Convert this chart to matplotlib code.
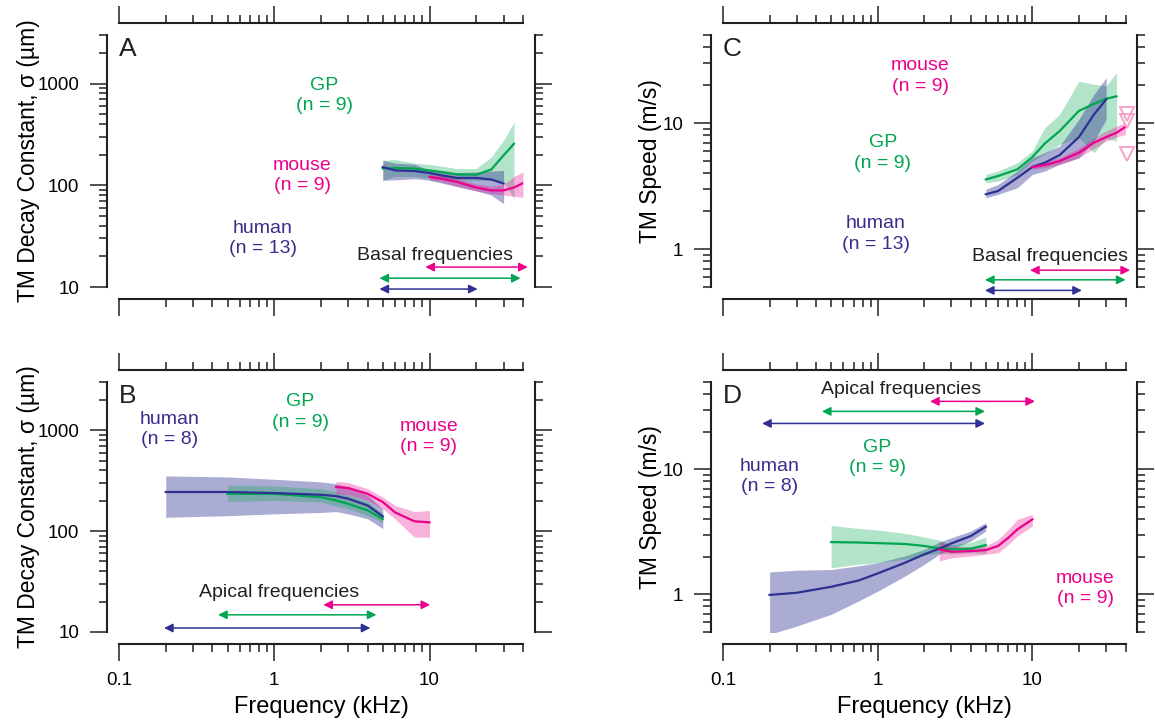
import numpy as np
import matplotlib.pyplot as plt
from matplotlib.ticker import LogLocator, FuncFormatter, NullFormatter

plt.rcParams['font.family'] = ['Liberation Sans', 'DejaVu Sans']

GREEN = '#00A651'
PINK = '#EC008C'
BLUE = '#2E3192'
HUMAN_TXT = '#3D2C8D'
AXIS = '#231F20'

# A: decay constant, basal
a_human_f = [5, 6, 8, 10, 12, 15, 20, 25, 30]
a_human = [151, 140, 138, 132, 125, 118, 118, 114, 104]
a_human_hi = [176, 165, 161, 140, 135, 133, 135, 138, 140]
a_human_lo = [112, 113, 116, 112, 105, 97, 88, 80, 66]

a_gp_f = [5, 6, 8, 10, 12, 15, 20, 25, 30, 35]
a_gp = [146, 148, 146, 140, 135, 128, 127, 143, 197, 256]
a_gp_hi = [176, 179, 165, 160, 154, 146, 146, 190, 276, 417]
a_gp_lo = [112, 122, 122, 117, 114, 112, 112, 112, 108, 74]

a_mouse_f = [10, 12, 15, 20, 25, 30, 35, 40]
a_mouse = [121, 116, 108, 95, 89, 89, 95, 105]
a_mouse_hi = [128, 125, 116, 103, 98, 102, 122, 135]
a_mouse_lo = [112, 108, 98, 88, 83, 80, 78, 76]

# B: decay constant, apical
b_human_f = [0.2, 0.5, 1, 2, 2.5, 3, 4, 5]
b_human = [244, 244, 238, 229, 222, 209, 179, 140]
b_human_hi = [352, 344, 326, 307, 295, 273, 226, 166]
b_human_lo = [137, 142, 148, 153, 156, 148, 132, 106]

b_gp_f = [0.5, 1, 2, 2.5, 3, 4, 5]
b_gp = [234, 234, 217, 201, 186, 160, 132]
b_gp_hi = [284, 280, 263, 244, 226, 194, 148]
b_gp_lo = [196, 201, 194, 177, 166, 142, 122]

b_mouse_f = [2.5, 3, 4, 5, 6, 8, 10]
b_mouse = [273, 267, 234, 194, 153, 125, 122]
b_mouse_hi = [311, 302, 263, 217, 179, 156, 160]
b_mouse_lo = [234, 229, 201, 166, 132, 87, 87]

# C: speed, basal
c_human_f = [5, 6, 8, 10, 12, 15, 20, 25, 30]
c_human = [2.72, 2.89, 3.68, 4.48, 4.84, 5.57, 7.74, 11.7, 15.4]
c_human_hi = [2.98, 3.26, 4.16, 5.3, 5.82, 6.57, 10.7, 16.9, 22.9]
c_human_lo = [2.55, 2.72, 3.07, 3.91, 4.16, 4.7, 5.3, 7.2, 10.7]

c_gp_f = [5, 6, 8, 10, 12, 15, 20, 25, 30, 35]
c_gp = [3.57, 3.80, 4.29, 5.37, 6.86, 8.64, 12.5, 14.2, 15.6, 16.3]
c_gp_hi = [3.91, 4.16, 4.84, 6.0, 9.18, 11.7, 21.5, 20.3, 19.7, 25.1]
c_gp_lo = [3.36, 3.46, 3.91, 4.99, 5.64, 6.77, 7.65, 5.8, 7.5, 7.2]

c_mouse_f = [10, 12, 15, 20, 25, 30, 35, 40]
c_mouse = [4.48, 4.64, 4.99, 5.82, 6.98, 7.74, 8.38, 9.35]
c_mouse_hi = [4.7, 4.93, 5.3, 6.3, 7.65, 8.64, 9.46, 10.1]
c_mouse_lo = [4.29, 4.42, 4.7, 5.3, 6.3, 7.2, 7.74, 8.13]

c_tri_f = [41, 41, 41]
c_tri = [11.7, 10.4, 5.64]

# D: speed, apical
d_human_f = [0.2, 0.3, 0.5, 0.75, 1, 1.5, 2, 2.5, 3, 4, 5]
d_human = [0.99, 1.03, 1.15, 1.29, 1.47, 1.79, 2.09, 2.32, 2.56, 2.93, 3.48]
d_human_hi = [1.51, 1.56, 1.58, 1.69, 1.79, 2.03, 2.29, 2.62, 2.84, 3.21, 3.74]
d_human_lo = [0.479, 0.558, 0.692, 0.884, 1.06, 1.40, 1.74, 2.09, 2.29, 2.67, 3.21]

d_gp_f = [0.5, 0.75, 1, 1.5, 2, 2.5, 3, 4, 5]
d_gp = [2.62, 2.60, 2.57, 2.53, 2.44, 2.33, 2.29, 2.32, 2.48]
d_gp_hi = [3.56, 3.37, 3.27, 3.08, 2.88, 2.72, 2.5, 2.6, 2.88]
d_gp_lo = [1.63, 1.74, 1.79, 1.91, 2.05, 2.15, 2.1, 2.15, 2.13]

d_mouse_f = [2.5, 3, 4, 5, 6, 7, 8, 10]
d_mouse = [2.29, 2.19, 2.22, 2.26, 2.44, 2.84, 3.31, 3.98]
d_mouse_hi = [2.67, 2.44, 2.39, 2.44, 2.75, 3.31, 3.98, 4.37]
d_mouse_lo = [1.85, 1.96, 2.03, 2.09, 2.15, 2.51, 2.93, 3.52]


def setup(ax, ylim, ylabel, letter, xlabels):
    ax.set_xscale('log')
    ax.set_yscale('log')
    ax.set_xlim(0.1, 40)
    ax.set_ylim(*ylim)
    fmt = FuncFormatter(lambda v, p: '%g' % v)
    ax.xaxis.set_major_locator(LogLocator(base=10))
    ax.xaxis.set_minor_locator(LogLocator(base=10, subs=np.arange(2, 10)))
    ax.yaxis.set_major_locator(LogLocator(base=10))
    ax.yaxis.set_minor_locator(LogLocator(base=10, subs=np.arange(2, 10)))
    ax.xaxis.set_major_formatter(fmt)
    ax.yaxis.set_major_formatter(fmt)
    ax.xaxis.set_minor_formatter(NullFormatter())
    ax.yaxis.set_minor_formatter(NullFormatter())
    for s in ['left', 'right', 'bottom', 'top']:
        ax.spines[s].set_position(('outward', 8.5))
        ax.spines[s].set_linewidth(1.5)
        ax.spines[s].set_color(AXIS)
    ax.tick_params(which='both', direction='out', top=True, right=True,
                   color=AXIS, width=1.1, labelsize=13.5, pad=8,
                   labelbottom=xlabels)
    ax.tick_params(which='major', length=12)
    ax.tick_params(which='minor', length=6)
    ax.set_ylabel(ylabel, fontsize=16.5)
    ax.yaxis.set_label_coords(ylabel_x[letter], 0.5)
    if xlabels:
        ax.set_xlabel('Frequency (kHz)', fontsize=17)
        ax.xaxis.set_label_coords(0.5, -0.255)
    ax.text(0.0, 0.945, letter, transform=ax.transAxes, fontsize=19,
            ha='left', va='center', color=AXIS)


def band(ax, f, y, lo, hi, color):
    ax.fill_between(f, lo, hi, color=color, alpha=fill_alpha[color], lw=0)


def line(ax, f, y, color):
    ax.plot(f, y, color=color, lw=1.6)


def arrow(ax, f1, f2, y, color):
    ax.annotate('', xy=(f2, y), xytext=(f1, y), annotation_clip=False,
                arrowprops=dict(arrowstyle='<|-|>', color=color, lw=1.1,
                                mutation_scale=13, shrinkA=0, shrinkB=0))


def label(ax, f, y, txt, color):
    ax.text(f, y, txt, color=color, fontsize=14, ha='center', va='center',
            linespacing=1.25)


fill_alpha = {GREEN: 0.3, BLUE: 0.4, PINK: 0.3}
ylabel_x = {'A': -0.196, 'B': -0.196, 'C': -0.152, 'D': -0.152}

fig = plt.figure(figsize=(11.55, 7.26), dpi=100)
axA = fig.add_axes([119 / 1155, 1 - 287 / 726, 404 / 1155, 252 / 726])
axB = fig.add_axes([119 / 1155, 1 - 632 / 726, 404 / 1155, 250 / 726])
axC = fig.add_axes([723 / 1155, 1 - 287 / 726, 402.5 / 1155, 252 / 726])
axD = fig.add_axes([723 / 1155, 1 - 632 / 726, 402.5 / 1155, 250 / 726])

decay = 'TM Decay Constant, \u03c3 (\u00b5m)'
speed = 'TM Speed (m/s)'
setup(axA, (10, 3000), decay, 'A', False)
setup(axB, (10, 3000), decay, 'B', True)
setup(axC, (0.5, 50), speed, 'C', False)
setup(axD, (0.5, 50), speed, 'D', True)

# A
band(axA, a_gp_f, a_gp, a_gp_lo, a_gp_hi, GREEN)
band(axA, a_human_f, a_human, a_human_lo, a_human_hi, BLUE)
band(axA, a_mouse_f, a_mouse, a_mouse_lo, a_mouse_hi, PINK)
line(axA, a_gp_f, a_gp, GREEN)
line(axA, a_human_f, a_human, BLUE)
line(axA, a_mouse_f, a_mouse, PINK)
label(axA, 2.1, 760, 'GP\n(n = 9)', GREEN)
label(axA, 1.52, 125, 'mouse\n(n = 9)', PINK)
label(axA, 0.84, 30, 'human\n(n = 13)', HUMAN_TXT)
label(axA, 10.8, 20.6, 'Basal frequencies', AXIS)
arrow(axA, 9.4, 42.9, 15.7, PINK)
arrow(axA, 4.76, 38.6, 12.2, GREEN)
arrow(axA, 4.76, 20.4, 9.55, BLUE)

# B
band(axB, b_human_f, b_human, b_human_lo, b_human_hi, BLUE)
band(axB, b_gp_f, b_gp, b_gp_lo, b_gp_hi, GREEN)
band(axB, b_mouse_f, b_mouse, b_mouse_lo, b_mouse_hi, PINK)
line(axB, b_gp_f, b_gp, GREEN)
line(axB, b_human_f, b_human, BLUE)
line(axB, b_mouse_f, b_mouse, PINK)
label(axB, 0.213, 1020, 'human\n(n = 8)', HUMAN_TXT)
label(axB, 1.47, 1510, 'GP\n(n = 9)', GREEN)
label(axB, 9.86, 870, 'mouse\n(n = 9)', PINK)
label(axB, 1.08, 24.5, 'Apical frequencies', AXIS)
arrow(axB, 2.07, 10.1, 18.6, PINK)
arrow(axB, 0.435, 4.55, 14.8, GREEN)
arrow(axB, 0.195, 4.16, 10.96, BLUE)

# C
band(axC, c_gp_f, c_gp, c_gp_lo, c_gp_hi, GREEN)
band(axC, c_human_f, c_human, c_human_lo, c_human_hi, BLUE)
band(axC, c_mouse_f, c_mouse, c_mouse_lo, c_mouse_hi, PINK)
line(axC, c_gp_f, c_gp, GREEN)
line(axC, c_human_f, c_human, BLUE)
line(axC, c_mouse_f, c_mouse, PINK)
axC.plot(c_tri_f, c_tri, 'v', ms=10, mfc='none', mec='#F5A3C7', mew=1.4,
         clip_on=False)
label(axC, 1.88, 23.6, 'mouse\n(n = 9)', PINK)
label(axC, 1.08, 5.78, 'GP\n(n = 9)', GREEN)
label(axC, 0.975, 1.315, 'human\n(n = 13)', HUMAN_TXT)
label(axC, 13.0, 0.88, 'Basal frequencies', AXIS)
arrow(axC, 9.66, 42.8, 0.68, PINK)
arrow(axC, 4.94, 40, 0.57, GREEN)
arrow(axC, 4.94, 20.9, 0.47, BLUE)

# D
band(axD, d_human_f, d_human, d_human_lo, d_human_hi, BLUE)
band(axD, d_gp_f, d_gp, d_gp_lo, d_gp_hi, GREEN)
band(axD, d_mouse_f, d_mouse, d_mouse_lo, d_mouse_hi, PINK)
line(axD, d_gp_f, d_gp, GREEN)
line(axD, d_human_f, d_human, BLUE)
line(axD, d_mouse_f, d_mouse, PINK)
label(axD, 1.415, 43.6, 'Apical frequencies', AXIS)
label(axD, 0.99, 12.5, 'GP\n(n = 9)', GREEN)
label(axD, 0.201, 8.8, 'human\n(n = 8)', HUMAN_TXT)
label(axD, 21.9, 1.12, 'mouse\n(n = 9)', PINK)
arrow(axD, 2.18, 10.4, 35, PINK)
arrow(axD, 0.436, 4.94, 29.1, GREEN)
arrow(axD, 0.179, 4.94, 23.3, BLUE)

fig.savefig('out.png', dpi=100)
